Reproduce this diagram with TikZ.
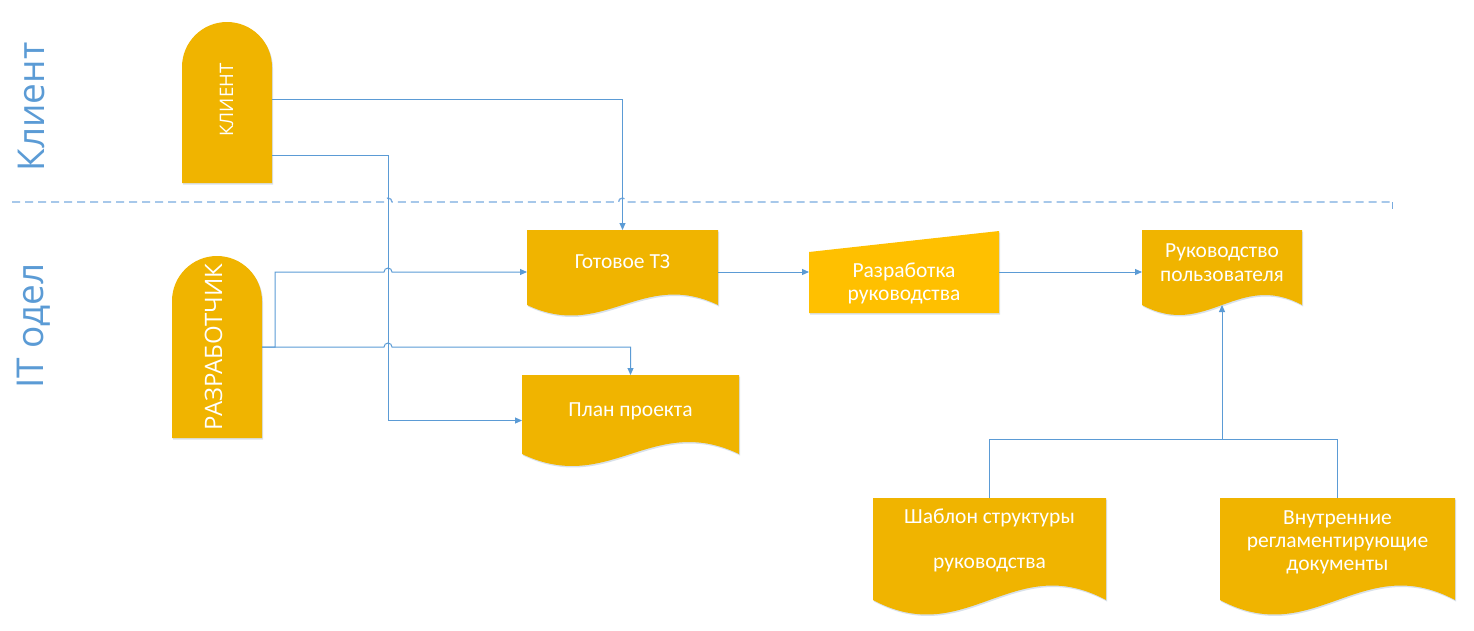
\documentclass[tikz,border=0pt]{standalone}
\usepackage{fontspec}
\setmainfont{Carlito}
\newfontfamily\lanefont{Open Sans}
\usetikzlibrary{arrows.meta,calc}
\definecolor{gold}{RGB}{240,180,0}
\definecolor{goldb}{RGB}{255,192,0}
\definecolor{lnblue}{RGB}{91,155,213}
\definecolor{dashblue}{RGB}{120,170,222}
\definecolor{shadowc}{RGB}{200,212,226}
\tikzset{
  conn/.style={draw=lnblue, line width=1pt, -{Triangle[length=7pt,width=6pt]}},
  link/.style={draw=lnblue, line width=1pt},
  laneline/.style={draw=dashblue, line width=1.3pt, dash pattern=on 8pt off 5pt},
  frame/.style={inner sep=0pt, outer sep=0pt, draw=none, anchor=north west},
  gfill/.style={fill=#1, preaction={fill=shadowc, opacity=0.7, transform canvas={shift={(1pt,-1.5pt)}}}},
  boxtext/.style={text=white, font=\fontsize{21.5}{25}\selectfont, anchor=base, inner sep=0pt},
  lanetext/.style={text=lnblue, font=\lanefont\fontsize{37}{40}\selectfont, rotate=90, anchor=base, inner sep=0pt},
  actortext/.style={text=white, font=\lanefont\fontsize{#1}{#1}\selectfont, rotate=90, anchor=base, inner sep=0pt},
}
% document shape: fill colour, x1, top, x2, wave base, amplitude
\newcommand\docshape[6]{%
  \path[gfill=#1] (#2,#3) -- (#4,#3) -- (#4,#5)
    .. controls ({#2+0.6*(#4-#2)},{#5-3.46*#6}) and ({#2+0.4*(#4-#2)},{#5+3.46*#6}) ..
    (#2,#5) -- cycle;}
\begin{document}
\begin{tikzpicture}[x=1pt,y=-1pt]
\useasboundingbox (0,0) rectangle (1474,630);

% lane labels
\node[lanetext] (lkl) at (44,107) {Клиент};
\node[lanetext] (lit) at (43,326) {IT одел};

% lane separator
\draw[laneline] (12,202) -- (384,202) arc (180:360:4) -- (618.5,202) arc (180:360:4) -- (1392,202);
\draw[draw=dashblue, line width=1pt] (1392,202) -- (1392,209);

% actors
\path[gfill=gold] (182,183) -- (182,67) arc (180:360:45) -- (272,183) -- cycle;
\node[frame, minimum width=90pt, minimum height=161pt] (kl) at (182,22) {};
\node[actortext=18.6] (klt) at (233,100) {КЛИЕНТ};

\path[gfill=gold] (172,438) -- (172,301) arc (180:360:45) -- (262,438) -- cycle;
\node[frame, minimum width=90pt, minimum height=182pt] (dv) at (172,256) {};
\node[actortext=24] (dvt) at (222,347) {РАЗРАБОТЧИК};

% documents and process
\docshape{gold}{527}{230}{718}{305}{10.5}
\node[frame, minimum width=191pt, minimum height=84pt] (gt) at (527,230) {};
\node[boxtext] (gtt) at (622.5,268) {Готовое ТЗ};

\docshape{gold}{522}{375}{739}{454}{12}
\node[frame, minimum width=217pt, minimum height=91pt] (pp) at (522,375) {};
\node[boxtext] (ppt) at (630.5,416) {План проекта};

\path[gfill=goldb] (809,252) -- (999,231) -- (999,313) -- (809,313) -- cycle;
\node[frame, minimum width=190pt, minimum height=82pt] (rr) at (809,231) {};
\node[boxtext] (rrt1) at (904,277) {Разработка};
\node[boxtext] (rrt2) at (904,300) {руководства};

\docshape{gold}{1142}{230}{1302}{305}{10}
\node[frame, minimum width=160pt, minimum height=84pt] (rp) at (1142,230) {};
\node[boxtext] (rpt1) at (1222,257) {Руководство};
\node[boxtext] (rpt2) at (1222,281) {пользователя};
\coordinate (rpw) at (1222,305);

\docshape{gold}{873}{498}{1106}{600}{14.5}
\node[frame, minimum width=233pt, minimum height=116pt] (sh) at (873,498) {};
\node[boxtext] (sht1) at (989.5,523) {Шаблон структуры};
\node[boxtext] (sht2) at (989.5,568) {руководства};

\docshape{gold}{1220}{498}{1455}{600}{14.5}
\node[frame, minimum width=235pt, minimum height=116pt] (vn) at (1220,498) {};
\node[boxtext] (vnt1) at (1337.5,524) {Внутренние};
\node[boxtext] (vnt2) at (1337.5,547) {регламентирующие};
\node[boxtext] (vnt3) at (1337.5,570) {документы};

% connectors
\coordinate (klo1) at (272,99);
\coordinate (klo2) at (272,155);
\coordinate (jn) at (1222,439);

\draw[conn] (klo1) -| (gt.north);
\draw[conn] (klo2) -- (388,155) |- (pp.west);
\draw[conn] (dv.east) -- (275,347) -- (275,272) -- (384,272) arc (180:360:4) -- (gt.west);
\draw[conn] (dv.east) -- (384,347) arc (180:360:4) -| (pp.north);
\draw[conn] (gt.east) -- (rr.west);
\draw[conn] (rr.east) -- (rp.west);
\draw[link] (sh.north) |- (jn);
\draw[link] (vn.north) |- (jn);
\draw[conn] (jn) -- (rpw);
\end{tikzpicture}
\end{document}
